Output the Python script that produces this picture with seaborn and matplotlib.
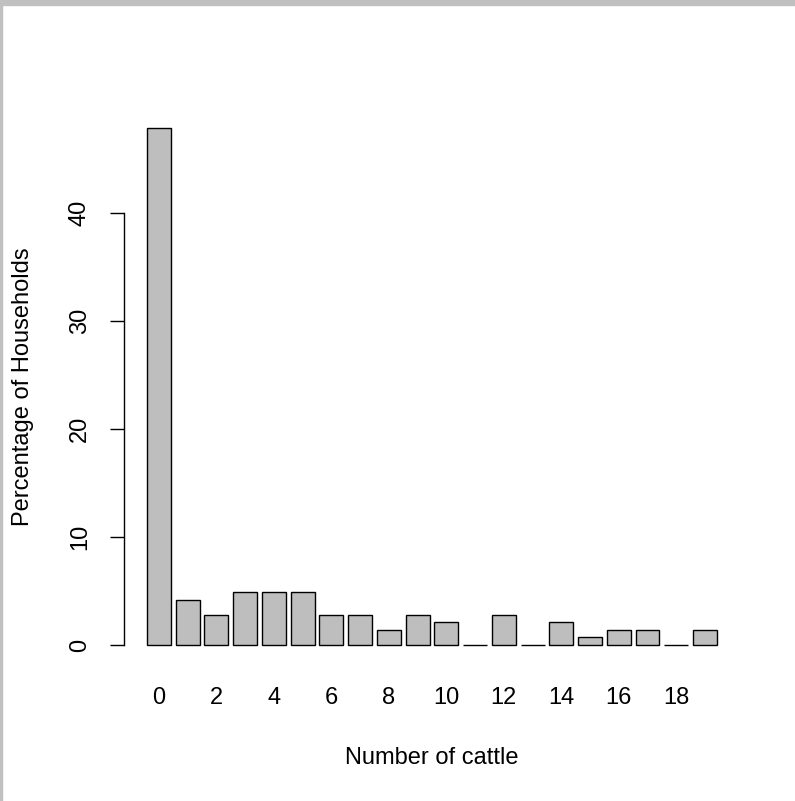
import numpy as np
import pandas as pd
import matplotlib
matplotlib.use("Agg")
import matplotlib.pyplot as plt
import seaborn as sns
from matplotlib.patches import Rectangle

# percentage of households by number of cattle
cattle = list(range(20))
pct = [47.9, 4.2, 2.8, 4.9, 4.9, 4.9, 2.8, 2.8, 1.4, 2.8,
       2.1, 0.0, 2.8, 0.0, 2.1, 0.7, 1.4, 1.4, 0.0, 1.4]
y_ticks = [0, 10, 20, 30, 40]

df = pd.DataFrame({'cattle': cattle, 'pct': pct})

sns.set_style('white')
plt.rcParams['font.family'] = ['Liberation Sans', 'DejaVu Sans']
plt.rcParams['text.color'] = 'black'
plt.rcParams['axes.labelcolor'] = 'black'
plt.rcParams['xtick.color'] = 'black'
plt.rcParams['ytick.color'] = 'black'

fig = plt.figure(figsize=(7.95, 8.01), dpi=100)
ax = fig.add_axes([0.1562, 0.1689, 0.7743, 0.6975])

sns.barplot(data=df, x='cattle', y='pct', color='#BEBEBE', saturation=1,
            edgecolor='black', linewidth=1.0, width=1 / 1.2, ax=ax)

ax.set_xlim(-1.21, 20.21)
ax.set_ylim(-0.04 * max(pct), 1.04 * max(pct))

for s in ['top', 'right', 'bottom']:
    ax.spines[s].set_visible(False)
ax.spines['left'].set_bounds(0, 40)
ax.spines['left'].set_color('black')
ax.spines['left'].set_linewidth(1.0)

ax.set_xticks(range(0, 20, 2))
ax.set_xticklabels([str(i) for i in range(0, 20, 2)])
ax.set_yticks(y_ticks)
ax.set_yticklabels([str(v) for v in y_ticks])
ax.tick_params(axis='x', length=0, pad=15, labelsize=17, labelcolor='black')
ax.tick_params(axis='y', left=True, length=10, width=1.0, pad=14,
               labelsize=17, labelrotation=90, color='black', labelcolor='black')
for lab in ax.get_yticklabels():
    lab.set_va('center')

ax.set_xlabel('Number of cattle', fontsize=17, labelpad=28, color='black')
ax.set_ylabel('Percentage of Households', fontsize=17, labelpad=25, color='black')

# grey window border at top and left
fig.patches.append(Rectangle((0, 1 - 5 / 801), 1, 5 / 801, transform=fig.transFigure,
                             color='#C0C0C0', zorder=10))
fig.patches.append(Rectangle((0, 0), 2 / 795, 1, transform=fig.transFigure,
                             color='#C0C0C0', zorder=10))

fig.savefig('out.png', dpi=100)
